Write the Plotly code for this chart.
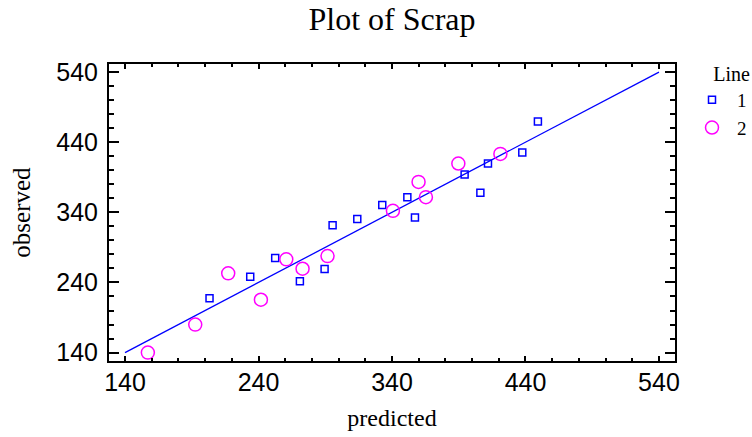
import plotly.graph_objects as go

# Line 1 (squares)
line1_predicted = [203.3, 233.8, 252.5, 271.0, 289.5, 295.5, 314.0, 332.7, 351.5, 357.2, 394.4, 406.2, 411.9, 437.6, 449.3]
line1_observed = [217.4, 248.2, 274.8, 241.6, 259.2, 321.4, 330.4, 350.3, 361.6, 332.7, 394.0, 367.8, 409.6, 425.3, 469.4]
# Line 2 (circles)
line2_predicted = [157.1, 192.6, 217.3, 241.8, 260.8, 273.0, 291.7, 340.7, 359.9, 365.4, 389.7, 421.2]
line2_observed = [140.0, 179.9, 253.0, 215.4, 273.0, 259.6, 277.6, 342.1, 383.4, 361.6, 409.6, 423.3]
# reference line observed = predicted
fit_x = [140, 540]
fit_y = [140, 540]
tick_vals = [140, 240, 340, 440, 540]

SERIF = "Liberation Serif, Times New Roman, serif"
SANS = "Liberation Sans, Arial, sans-serif"

fig = go.Figure()
fig.add_trace(go.Scatter(x=fit_x, y=fit_y, mode="lines",
                         line=dict(color="#0000ff", width=1.3),
                         showlegend=False, hoverinfo="skip"))
fig.add_trace(go.Scatter(x=line1_predicted, y=line1_observed, mode="markers", name="1",
                         marker=dict(symbol="square-open", size=7, color="#0000ff",
                                     line=dict(width=1.5, color="#0000ff"))))
fig.add_trace(go.Scatter(x=line2_predicted, y=line2_observed, mode="markers", name="2",
                         marker=dict(symbol="circle-open", size=13, color="#ff00ff",
                                     line=dict(width=1.5, color="#ff00ff"))))

axis_common = dict(
    tickvals=tick_vals, ticks="inside", tickwidth=2, linewidth=2, linecolor="black",
    tickcolor="black", mirror="ticks", showgrid=False, zeroline=False,
    tickfont=dict(family=SANS, size=25, color="black"),
)

fig.update_xaxes(range=[128, 552], ticklen=5, ticklabelstandoff=-2,
                 minor=dict(ticks="inside", ticklen=3, tickwidth=2, dtick=20, tick0=140,
                            tickcolor="black", showgrid=False),
                 title=dict(text="predicted", font=dict(family=SERIF, size=24, color="black"), standoff=14),
                 **axis_common)
fig.update_yaxes(range=[128, 551.5], ticklen=10, ticklabelstandoff=4,
                 minor=dict(ticks="inside", ticklen=5, tickwidth=2, dtick=20, tick0=140,
                            tickcolor="black", showgrid=False),
                 title=dict(text="observed", font=dict(family=SERIF, size=25, color="black"), standoff=19),
                 **axis_common)

fig.update_layout(
    width=752, height=437,
    margin=dict(l=109, r=77, t=64, b=76, autoexpand=False),
    plot_bgcolor="white", paper_bgcolor="white",
    title=dict(text="Plot of Scrap", x=0.5, xref="paper", xanchor="center",
               y=1 - 19 / 437, yref="container", yanchor="middle",
               font=dict(family=SERIF, size=32, color="black")),
    legend=dict(x=687 / 752, y=1 - 55 / 437, xref="container", yref="container",
                xanchor="left", yanchor="top", itemwidth=40,
                title=dict(text="Line", side="top right", font=dict(family=SERIF, size=20, color="black")),
                font=dict(family=SERIF, size=19, color="black"),
                tracegroupgap=0,
                bgcolor="rgba(0,0,0,0)"),
)

fig.write_html("out.html")
